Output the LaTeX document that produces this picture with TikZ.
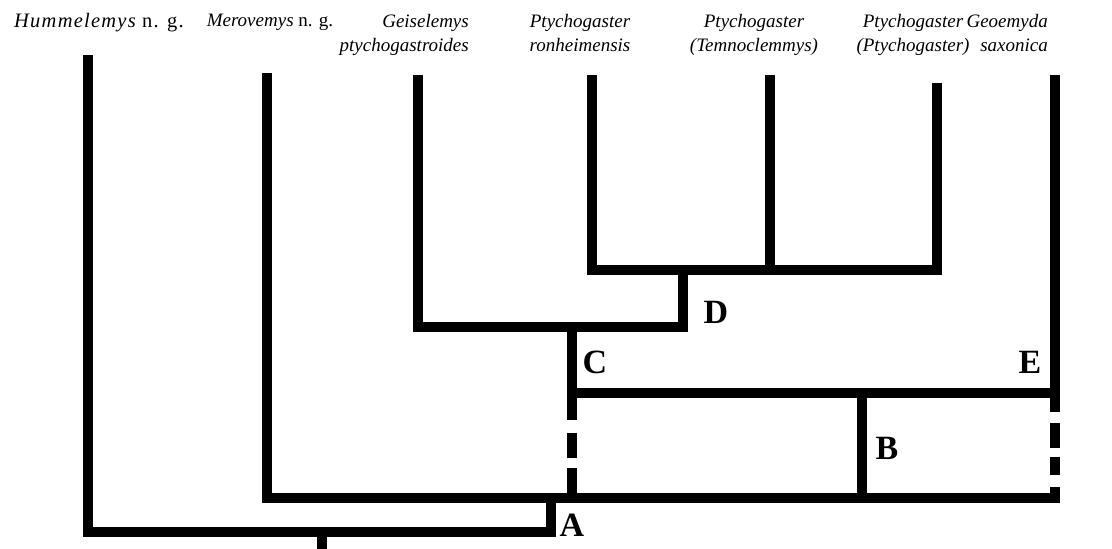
\documentclass[tikz,border=0pt]{standalone}
\usepackage{fontspec}
\setmainfont{Liberation Serif}
\begin{document}
\begin{tikzpicture}[x=1pt,y=-1pt,
  br/.style={line width=9.5pt,line join=miter,line cap=butt},
  taxon/.style={font=\fontsize{19}{24}\selectfont\itshape,inner sep=0pt},
  clade/.style={font=\fontsize{34}{34}\selectfont\bfseries,inner sep=0pt}]
\useasboundingbox (0,0) rectangle (1112,549);
% taxon labels
\node[taxon,anchor=north] (hum) at (99,13) {\fontsize{20.5}{24}\selectfont\addfontfeature{LetterSpace=6}Hummelemys \upshape n. g.};
\node[taxon,anchor=north] (mer) at (270,14) {Merovemys \upshape n. g.};
\node[taxon,anchor=north east,align=right] (gei) at (469,14) {Geiselemys\\ptychogastroides};
\node[taxon,anchor=north,align=center] (ron) at (580,14) {Ptychogaster\\ronheimensis};
\node[taxon,anchor=north,align=center] (tem) at (754,14) {Ptychogaster\\(Temnoclemmys)};
\node[taxon,anchor=north,align=center] (pty) at (913,14) {Ptychogaster\\(Ptychogaster)};
\node[taxon,anchor=north east,align=right] (geo) at (1048,14) {Geoemyda\\saxonica};
% branch tips
\coordinate (tHum) at (88,55);
\coordinate (tMer) at (267,73);
\coordinate (tGei) at (418,75);
\coordinate (tRon) at (592,75);
\coordinate (tTem) at (770,75);
\coordinate (tPty) at (937,83);
\coordinate (tGeo) at (1055,75);
% junctions
\coordinate (rootTop) at (322,532);
\coordinate (root) at (322,560);
\coordinate (jA) at (551,532);
\coordinate (jA2) at (551,498);
\coordinate (jEb) at (1055,498);
\coordinate (jE3) at (1055,487);
\coordinate (jE) at (1055,393);
\coordinate (jC) at (572,393);
\coordinate (jCb) at (572,498);
\coordinate (jC2) at (572,327);
\coordinate (jB) at (862,498);
\coordinate (jB2) at (862,393);
\coordinate (jD) at (683,327);
\coordinate (jD2) at (683,270);
\coordinate (jT) at (770,270);
\coordinate (jP) at (937,270);
% branches
\draw[br] (tHum) |- (jA) -- (jA2);
\draw[br] (rootTop) -- (root);
\draw[br] (tMer) |- (jEb) -- (jE3);
\draw[br,dash pattern=on 27pt off 13pt on 25pt off 10pt on 40pt] (jC) -- (jCb);
\draw[br,dash pattern=on 19pt off 11pt on 25pt off 9pt on 18pt off 20pt] (jE) -- (jE3);
\draw[br] (jC2) -- (jC) -- (jE);
\draw[br] (tGeo) -- (jE);
\draw[br] (jB2) -- (jB);
\draw[br] (tGei) |- (jD) -- (jD2);
\draw[br] (tRon) |- (jP) -- (tPty);
\draw[br] (tTem) -- (jT);
% clade letters
\node[clade] (A) at (572,525) {A};
\node[clade] (B) at (887,448) {B};
\node[clade] (C) at (595,362) {C};
\node[clade] (D) at (716,312) {D};
\node[clade] (E) at (1030,362) {E};
\end{tikzpicture}
\end{document}
